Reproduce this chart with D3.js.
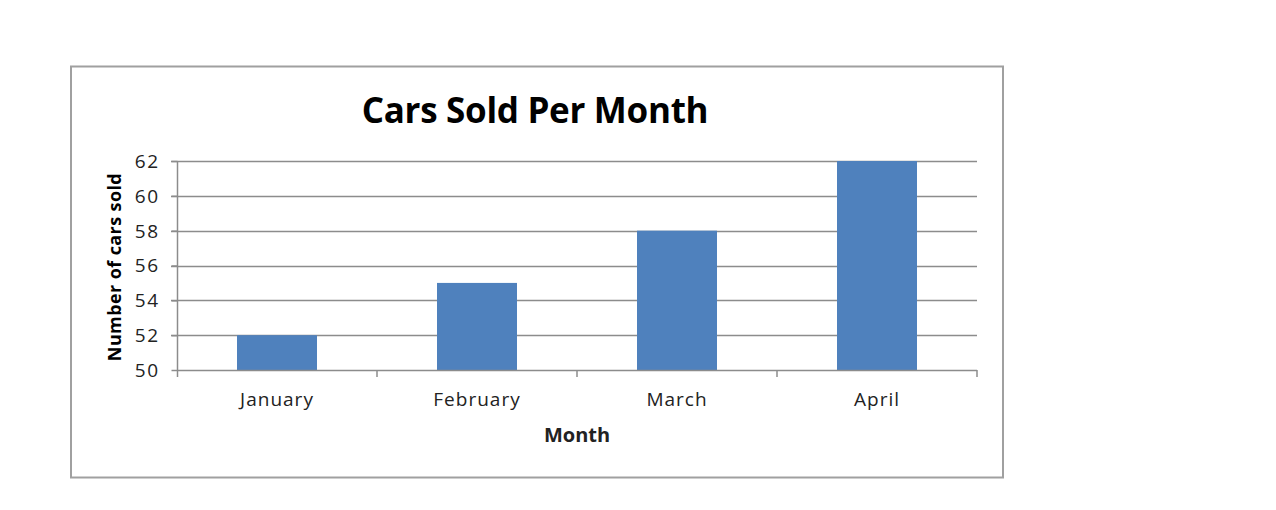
<!DOCTYPE html>
<html><head><meta charset="utf-8">
<script src="https://cdn.jsdelivr.net/npm/d3@7/dist/d3.min.js"></script>
<style>body{margin:0;background:#fff;} svg{display:block;}</style>
</head><body>
<svg id="c" width="1276" height="510"></svg>
<script>
const months = ["January", "February", "March", "April"];
const carsSold = [52, 55, 58, 62];
const yTicks = [50, 52, 54, 56, 58, 60, 62];
const chartTitle = "Cars Sold Per Month";
const xTitle = "Month";
const yTitle = "Number of cars sold";

const svg = d3.select("#c");
const font = "'Open Sans', sans-serif";
const plot = {left: 177, right: 977, top: 161, bottom: 370};

svg.append("rect").attr("x", 71).attr("y", 66.5).attr("width", 932).attr("height", 411)
  .attr("fill", "#fff").attr("stroke", "#a0a0a0").attr("stroke-width", 2);

const x = d3.scaleBand().domain(months).range([plot.left, plot.right]).paddingInner(0.6).paddingOuter(0.3);
const xb = d3.scaleBand().domain(months).range([plot.left, plot.right]).padding(0);
const y = d3.scaleLinear().domain([50, 62]).range([plot.bottom, plot.top]);

// gridlines
svg.append("g").selectAll("line").data(yTicks.filter(t => t > 50)).join("line")
  .attr("x1", plot.left - 6).attr("x2", plot.right)
  .attr("y1", d => Math.round(y(d)) + 0.5).attr("y2", d => Math.round(y(d)) + 0.5)
  .attr("stroke", "#8c8c8c").attr("stroke-width", 1.5);

// bars
svg.append("g").selectAll("rect").data(months).join("rect")
  .attr("x", d => x(d)).attr("width", x.bandwidth())
  .attr("y", (d, i) => y(carsSold[i])).attr("height", (d, i) => y(50) - y(carsSold[i]))
  .attr("fill", "#4F81BD");

// y axis
const ya = svg.append("g").attr("transform", `translate(${plot.left + 0.5},0)`)
  .call(d3.axisLeft(y).tickValues(yTicks).tickSize(6).tickPadding(12).tickFormat(d3.format("d")));
ya.select(".domain").remove();
ya.selectAll(".tick line").attr("stroke", "#8c8c8c").attr("stroke-width", 1.5);
ya.selectAll("text").attr("font-family", font).attr("font-size", 19).attr("fill", "#222")
  .attr("letter-spacing", 1.5).attr("dy", "0.34em");
svg.append("line").attr("x1", plot.left + 0.5).attr("x2", plot.left + 0.5)
  .attr("y1", plot.top).attr("y2", plot.bottom + 7).attr("stroke", "#8c8c8c").attr("stroke-width", 1.5);

// x axis
svg.append("line").attr("x1", plot.left).attr("x2", plot.right)
  .attr("y1", plot.bottom + 0.5).attr("y2", plot.bottom + 0.5).attr("stroke", "#8c8c8c").attr("stroke-width", 1.5);
svg.append("g").selectAll("line").data(months).join("line")
  .attr("x1", d => xb(d) + xb.bandwidth()).attr("x2", d => xb(d) + xb.bandwidth())
  .attr("y1", plot.bottom).attr("y2", plot.bottom + 7).attr("stroke", "#8c8c8c").attr("stroke-width", 1.5);
svg.append("g").selectAll("text").data(months).join("text")
  .attr("x", d => x(d) + x.bandwidth() / 2).attr("y", 406)
  .attr("text-anchor", "middle").attr("font-family", font).attr("font-size", 19).attr("fill", "#222")
  .attr("letter-spacing", 1).text(d => d);

// titles
svg.append("text").attr("x", 535).attr("y", 123).attr("text-anchor", "middle")
  .attr("font-family", font).attr("font-weight", "bold").attr("font-size", 35).attr("fill", "#000")
  .attr("letter-spacing", -0.3).text(chartTitle);
svg.append("text").attr("x", 577).attr("y", 442).attr("text-anchor", "middle")
  .attr("font-family", font).attr("font-weight", "bold").attr("font-size", 20).attr("fill", "#222")
  .text(xTitle);
svg.append("text").attr("transform", "translate(121,267) rotate(-90)").attr("text-anchor", "middle")
  .attr("font-family", font).attr("font-weight", "bold").attr("font-size", 18).attr("fill", "#000")
  .attr("letter-spacing", 0.4).text(yTitle);
</script>
</body></html>
